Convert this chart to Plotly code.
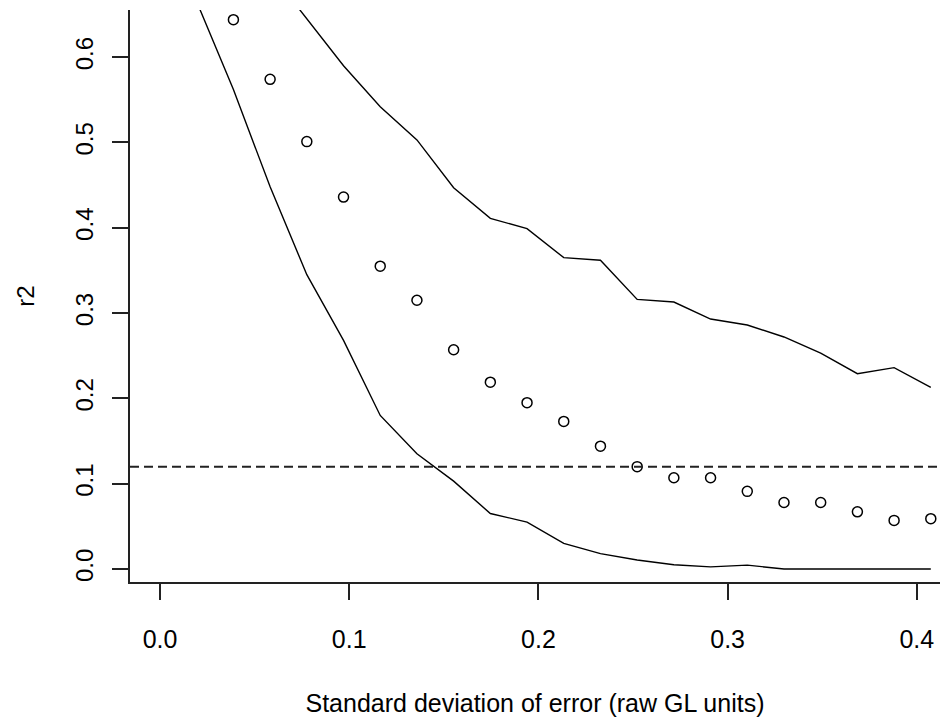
import plotly.graph_objects as go

# --- data ---
step = 0.0194
k_points = list(range(2, 22))
x_points = [round(step * k, 4) for k in k_points]
r2_mean = [0.644, 0.574, 0.501, 0.436, 0.355, 0.315, 0.257, 0.219, 0.195, 0.173,
           0.144, 0.120, 0.107, 0.107, 0.091, 0.078, 0.078, 0.067, 0.057, 0.059]

k_upper = list(range(3, 22))
x_upper = [round(step * k, 4) for k in k_upper]
r2_upper = [0.700, 0.645, 0.590, 0.542, 0.503, 0.447, 0.411, 0.399, 0.365, 0.362,
            0.316, 0.313, 0.293, 0.286, 0.272, 0.253, 0.229, 0.236, 0.213]

k_lower = list(range(1, 22))
x_lower = [round(step * k, 4) for k in k_lower]
r2_lower = [0.665, 0.562, 0.448, 0.345, 0.268, 0.180, 0.135, 0.103, 0.065, 0.055,
            0.030, 0.018, 0.0106, 0.005, 0.0025, 0.0045, 0.0, 0.0, 0.0, 0.0, 0.0]

threshold = 0.12
x_ticks = [0.0, 0.1, 0.2, 0.3, 0.4]
y_ticks = [0.0, 0.1, 0.2, 0.3, 0.4, 0.5, 0.6]
x_title = "Standard deviation of error (raw GL units)"
y_title = "r2"

FONT = "Liberation Sans, Arial, sans-serif"

fig = go.Figure()
fig.add_trace(go.Scatter(x=x_upper, y=r2_upper, mode="lines",
                         line=dict(color="black", width=1.4), showlegend=False))
fig.add_trace(go.Scatter(x=x_lower, y=r2_lower, mode="lines",
                         line=dict(color="black", width=1.4), showlegend=False))
fig.add_trace(go.Scatter(x=x_points, y=r2_mean, mode="markers",
                         marker=dict(symbol="circle-open", size=10,
                                     color="black", line=dict(width=1.5)),
                         showlegend=False))
fig.add_hline(y=threshold, line=dict(color="#222", width=2, dash="9px,5px"))

fig.update_layout(
    width=940, height=723,
    margin=dict(l=130, r=0, t=10, b=141, autoexpand=False),
    paper_bgcolor="white", plot_bgcolor="white",
    font=dict(family=FONT, size=24, color="black"),
)
fig.update_xaxes(
    range=[-0.01586, 0.41226], tickvals=x_ticks, tickformat=".1f",
    showgrid=False, zeroline=False, showline=True, linecolor="#222", linewidth=2,
    ticks="outside", ticklen=16, tickwidth=2, tickcolor="#222",
    tickfont=dict(size=25), ticklabelstandoff=18,
    title=dict(text=x_title, font=dict(size=25), standoff=42),
)
fig.update_yaxes(
    range=[-0.01524, 0.6553], tickvals=y_ticks, tickformat=".1f",
    showgrid=False, zeroline=False, showline=True, linecolor="#222", linewidth=2,
    ticks="outside", ticklen=16, tickwidth=2, tickcolor="#222",
    tickangle=-90, tickfont=dict(size=24), ticklabelstandoff=9,
    title=dict(text=y_title, font=dict(size=24), standoff=30),
)

fig.write_html("out.html")
